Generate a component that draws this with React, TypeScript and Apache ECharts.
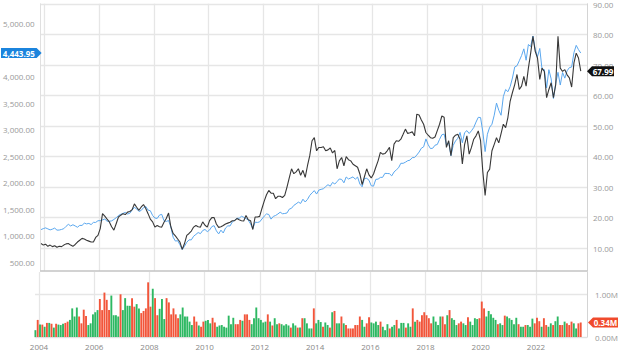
import React, { useEffect, useRef } from "react";
import * as echarts from "echarts";

// Monthly points, Dec 2003 .. Sep 2023
const FIRST_T = 2003.87;
const X_MIN = 2003.855;
const X_MAX = 2023.848;

const sp500: number[] = [
  1112,
  1131, 1145, 1126, 1107, 1121, 1141, 1102, 1104, 1115, 1130, 1174, 1212,
  1181, 1204, 1181, 1157, 1192, 1191, 1234, 1220, 1229, 1207, 1249, 1248,
  1280, 1281, 1295, 1311, 1270, 1270, 1277, 1304, 1336, 1378, 1401, 1418,
  1438, 1407, 1421, 1482, 1531, 1503, 1455, 1474, 1527, 1549, 1481, 1468,
  1379, 1331, 1323, 1386, 1400, 1280, 1267, 1283, 1165, 969, 896, 903,
  826, 735, 798, 873, 919, 919, 987, 1021, 1057, 1036, 1096, 1115,
  1074, 1104, 1169, 1187, 1089, 1031, 1102, 1049, 1141, 1183, 1181, 1258,
  1286, 1327, 1326, 1364, 1345, 1321, 1292, 1219, 1131, 1253, 1247, 1258,
  1312, 1366, 1408, 1398, 1310, 1362, 1379, 1407, 1441, 1412, 1416, 1426,
  1498, 1515, 1569, 1598, 1631, 1606, 1686, 1633, 1682, 1757, 1806, 1848,
  1783, 1859, 1872, 1884, 1924, 1960, 1931, 2003, 1972, 2018, 2068, 2059,
  1995, 2105, 2068, 2086, 2107, 2063, 2104, 1972, 1920, 2079, 2080, 2044,
  1940, 1932, 2060, 2065, 2097, 2099, 2174, 2171, 2168, 2126, 2199, 2239,
  2279, 2364, 2363, 2384, 2412, 2423, 2470, 2472, 2519, 2575, 2648, 2674,
  2824, 2714, 2641, 2648, 2705, 2718, 2816, 2902, 2914, 2712, 2760, 2507,
  2704, 2784, 2834, 2946, 2752, 2942, 2980, 2926, 2977, 3038, 3141, 3231,
  3226, 2954, 2585, 2912, 3044, 3100, 3271, 3500, 3363, 3270, 3622, 3756,
  3714, 3811, 3973, 4181, 4204, 4298, 4395, 4523, 4308, 4605, 4567, 4766,
  4516, 4374, 4530, 4132, 4132, 3785, 4130, 3955, 3586, 3872, 4080, 3840,
  4077, 3970, 4109, 4169, 4180, 4450, 4589, 4508, 4443.95,
];

const stock: number[] = [
  11.5,
  11.0, 11.3, 10.6, 11.0, 10.5, 10.8, 10.3, 10.6, 10.5, 11.0, 11.4, 11.5,
  11.0, 10.6, 11.2, 12.0, 12.6, 13.2, 13.0, 12.6, 12.3, 12.0, 12.0, 13.5,
  14.2, 16.4, 21.3, 20.5, 19.5, 18.6, 17.0, 15.9, 18.0, 20.2, 20.8, 21.3,
  21.0, 21.8, 22.0, 22.6, 24.5, 23.4, 22.4, 23.5, 24.3, 23.0, 21.3, 19.5,
  18.6, 16.9, 17.4, 17.0, 16.9, 18.5, 19.7, 21.5, 17.0, 14.8, 14.0, 13.0,
  12.0, 9.6, 11.5, 14.2, 14.8, 15.6, 16.9, 17.4, 17.0, 16.9, 18.6, 17.5,
  16.9, 19.0, 20.0, 20.0, 17.9, 16.8, 17.0, 17.4, 17.9, 18.2, 18.5, 19.0,
  19.0, 19.7, 19.3, 19.0, 18.9, 20.7, 19.3, 19.0, 16.1, 20.2, 20.2, 20.4,
  23.0, 25.4, 27.5, 28.9, 28.0, 28.0, 26.2, 27.0, 27.0, 26.6, 27.3, 30.0,
  33.0, 36.0, 34.4, 35.0, 36.0, 33.9, 35.5, 33.2, 37.0, 40.3, 45.2, 46.2,
  41.9, 43.0, 43.0, 43.2, 41.9, 42.2, 42.8, 41.2, 42.0, 36.0, 38.6, 39.7,
  37.0, 40.0, 39.0, 38.6, 37.5, 37.0, 36.5, 34.3, 30.8, 33.4, 36.0, 34.0,
  33.0, 34.3, 36.5, 38.6, 41.4, 40.8, 41.0, 41.9, 43.0, 38.7, 44.1, 45.2,
  45.0, 45.7, 47.3, 49.0, 47.6, 47.8, 48.1, 46.8, 53.9, 53.6, 52.0, 50.6,
  47.9, 47.0, 46.2, 46.0, 46.4, 48.5, 50.6, 53.3, 52.9, 43.0, 45.2, 40.3,
  46.2, 47.0, 47.3, 45.7, 37.6, 44.0, 46.8, 40.8, 43.0, 45.7, 46.8, 48.4,
  45.2, 35.0, 27.3, 34.8, 35.9, 41.9, 44.0, 46.2, 44.5, 47.5, 50.6, 49.5,
  52.8, 58.2, 61.0, 63.6, 66.9, 62.0, 63.1, 66.3, 63.1, 69.0, 73.9, 79.4,
  74.5, 72.3, 65.3, 69.0, 67.9, 59.3, 62.0, 64.2, 59.3, 63.6, 79.4, 69.0,
  67.9, 68.5, 66.8, 65.8, 62.8, 70.7, 73.9, 72.3, 67.99,
];

// Volume in millions
const volume: number[] = [
  0.16, 0.40, 0.29, 0.29, 0.24, 0.33, 0.33, 0.31, 0.22, 0.31, 0.29, 0.28, 0.31,
  0.33, 0.36, 0.40, 0.67, 0.48, 0.69, 0.48, 0.32, 0.64, 0.49, 0.28, 0.32,
  0.53, 0.58, 0.63, 0.89, 0.63, 1.04, 0.87, 0.63, 0.97, 0.51, 0.51, 0.48,
  1.0, 0.63, 0.91, 0.73, 0.73, 0.91, 0.71, 0.77, 0.67, 0.56, 0.61, 0.67,
  1.28, 0.71, 1.13, 0.91, 0.51, 0.66, 0.89, 0.42, 0.91, 0.81, 0.53, 0.67,
  0.53, 0.44, 0.53, 0.69,
  0.48, 0.48, 0.36, 0.28, 0.48, 0.36, 0.27, 0.24, 0.36, 0.38, 0.40, 0.32,
  0.45, 0.34, 0.24, 0.27, 0.28, 0.24, 0.22, 0.50, 0.30, 0.45, 0.30, 0.30,
  0.40, 0.38, 0.53, 0.53, 0.40, 0.30, 0.44, 0.69, 0.44, 0.40, 0.34, 0.36,
  0.53, 0.36, 0.27, 0.44, 0.30, 0.32, 0.30, 0.27, 0.30, 0.27, 0.22, 0.32,
  0.27, 0.22, 0.22, 0.44,
  0.44, 0.32, 0.20, 0.20, 0.67, 0.32, 0.40, 0.35, 0.24, 0.34, 0.28, 0.22,
  0.58, 0.61, 0.32, 0.32, 0.48, 0.32, 0.28, 0.20, 0.20, 0.20, 0.28, 0.28,
  0.48, 0.40, 0.24, 0.32, 0.46, 0.34, 0.32, 0.36, 0.28, 0.36, 0.24, 0.16,
  0.30, 0.20, 0.24, 0.28, 0.40, 0.20, 0.33, 0.33, 0.22, 0.32, 0.24, 0.67,
  0.36, 0.40, 0.36, 0.51, 0.58, 0.51, 0.44, 0.32, 0.48, 0.36, 0.28, 0.48,
  0.48, 0.30, 0.51, 0.63, 0.44, 0.40, 0.28, 0.32, 0.36, 0.32, 0.28, 0.46,
  0.36, 0.28, 0.44, 0.42, 0.44, 0.83, 0.67, 0.48, 0.61, 0.53, 0.45, 0.40,
  0.30, 0.32, 0.28, 0.50, 0.48, 0.44, 0.40, 0.30, 0.45, 0.30, 0.24, 0.24,
  0.28, 0.28, 0.24, 0.43, 0.32, 0.45, 0.37, 0.24, 0.44, 0.28, 0.24, 0.32,
  0.28, 0.37, 0.48, 0.28, 0.28, 0.36, 0.32, 0.28, 0.36, 0.32, 0.20, 0.32,
  0.34,
];

const yearTicks = [2004, 2006, 2008, 2010, 2012, 2014, 2016, 2018, 2020, 2022];
const leftTicks = [500, 1000, 1500, 2000, 2500, 3000, 3500, 4000, 5000];
const rightTicks = [10, 20, 30, 40, 50, 60, 70, 80, 90];
const volTicks = [0, 1];

const FONT = "'Open Sans', 'Noto Sans', sans-serif";
const GREEN = "#2db862";
const RED = "#f2553a";

export default function App() {
  const ref = useRef<HTMLDivElement>(null);

  useEffect(() => {
    if (!ref.current) return;
    const chart = echarts.init(ref.current, undefined, { renderer: "svg" });
    const t = (i: number) => FIRST_T + i / 12;
    const n = Math.min(sp500.length, stock.length, volume.length);

    const spData = sp500.slice(0, n).map((v, i) => [t(i), v]);
    const stData = stock.slice(0, n).map((v, i) => [t(i), v]);
    const volData = volume.slice(0, n).map((v, i) => ({
      value: [t(i), v],
      itemStyle: { color: i === 0 || stock[i] >= stock[i - 1] ? GREEN : RED },
    }));

    const gridLine = { show: true, lineStyle: { color: "#e6e6e6", width: 1.3 } };
    const labelBase = { color: "#999", fontSize: 8, fontFamily: FONT };

    chart.setOption({
      animation: false,
      backgroundColor: "#ffffff",
      textStyle: { fontFamily: FONT },
      grid: [
        { left: 35, right: 53, top: 2, height: 269 },
        { left: 35, right: 53, top: 272, height: 65 },
      ],
      xAxis: [
        {
          type: "value",
          gridIndex: 0,
          min: X_MIN,
          max: X_MAX,
          axisLabel: { show: false, customValues: yearTicks },
          axisTick: { show: false, customValues: yearTicks },
          splitLine: gridLine,
          axisLine: { show: true, lineStyle: { color: "#c4c4c4", width: 1.5 } },
        },
        {
          type: "value",
          gridIndex: 1,
          min: X_MIN,
          max: X_MAX,
          axisLabel: {
            ...labelBase,
            color: "#888",
            customValues: yearTicks,
            margin: 5,
            formatter: (v: number) => String(Math.round(v)),
          },
          axisTick: { show: false, customValues: yearTicks },
          splitLine: gridLine,
          axisLine: { show: true, lineStyle: { color: "#e0e0e0" } },
        },
      ],
      yAxis: [
        {
          type: "value",
          gridIndex: 0,
          position: "left",
          min: 331.25,
          max: 5375,
          axisLabel: {
            ...labelBase,
            margin: 6,
            customValues: leftTicks,
            formatter: (v: number) =>
              v.toLocaleString("en-US", { minimumFractionDigits: 2, maximumFractionDigits: 2 }),
          },
          axisTick: { show: false, customValues: leftTicks },
          splitLine: { show: false },
          axisLine: { show: true, lineStyle: { color: "#e0e0e0" } },
        },
        {
          type: "value",
          gridIndex: 0,
          position: "right",
          min: 2.51,
          max: 90.1,
          axisLabel: {
            ...labelBase,
            margin: 6,
            customValues: rightTicks,
            formatter: (v: number) => v.toFixed(2),
          },
          axisTick: { show: false, customValues: rightTicks },
          splitLine: gridLine,
          axisLine: { show: true, lineStyle: { color: "#d4d4d4" } },
        },
        {
          type: "value",
          gridIndex: 1,
          position: "right",
          min: 0,
          max: 1.522,
          axisLabel: {
            ...labelBase,
            margin: 8,
            customValues: volTicks,
            formatter: (v: number) => v.toFixed(2) + "M",
          },
          axisTick: { show: false, customValues: volTicks },
          splitLine: gridLine,
          axisLine: { show: true, lineStyle: { color: "#d4d4d4" } },
        },
      ],
      series: [
        {
          name: "S&P 500",
          type: "line",
          xAxisIndex: 0,
          yAxisIndex: 0,
          data: spData,
          showSymbol: false,
          lineStyle: { color: "#5aa7ee", width: 1 },
          z: 3,
        },
        {
          name: "Stock",
          type: "line",
          xAxisIndex: 0,
          yAxisIndex: 1,
          data: stData,
          showSymbol: false,
          lineStyle: { color: "#383838", width: 1.1 },
          z: 4,
        },
        {
          name: "Volume",
          type: "bar",
          xAxisIndex: 1,
          yAxisIndex: 2,
          data: volData,
          barWidth: 1.9,
        },
      ],
    });

    // Last-value badges, positioned through the chart's own scales
    const last = n - 1;
    const xl = chart.convertToPixel({ xAxisIndex: 0 }, X_MIN) as number;
    const xr = chart.convertToPixel({ xAxisIndex: 0 }, X_MAX) as number;
    const yS = chart.convertToPixel({ yAxisIndex: 0 }, sp500[last]) as number;
    const yK = chart.convertToPixel({ yAxisIndex: 1 }, stock[last]) as number;
    const yV = chart.convertToPixel({ yAxisIndex: 2 }, volume[last]) as number;

    const h = 5;
    const leftBadge = (tip: number, y: number, x0: number, color: string, text: string) => [
      {
        type: "polygon",
        shape: { points: [[x0, y - h], [tip - 5, y - h], [tip, y], [tip - 5, y + h], [x0, y + h]] },
        style: { fill: color },
        z: 100,
      },
      {
        type: "text",
        x: (x0 + tip - 5) / 2,
        y,
        style: {
          text,
          fill: "#fff",
          font: `bold 8px ${FONT}`,
          align: "center",
          verticalAlign: "middle",
        },
        z: 101,
      },
    ];
    const rightBadge = (tip: number, y: number, x1: number, color: string, text: string) => [
      {
        type: "polygon",
        shape: { points: [[tip, y], [tip + 5, y - h], [x1, y - h], [x1, y + h], [tip + 5, y + h]] },
        style: { fill: color },
        z: 100,
      },
      {
        type: "text",
        x: (tip + 5 + x1) / 2,
        y,
        style: {
          text,
          fill: "#fff",
          font: `bold 8px ${FONT}`,
          align: "center",
          verticalAlign: "middle",
        },
        z: 101,
      },
    ];

    chart.setOption({
      graphic: [
        ...leftBadge(xl + 1, yS, 1, "#1b84dd", sp500[last].toLocaleString("en-US", { minimumFractionDigits: 2 })),
        ...rightBadge(xr, yK, xr + 27, "#111111", stock[last].toFixed(2)),
        ...rightBadge(xr + 1, yV, xr + 31, "#f04a2c", volume[last].toFixed(2) + "M"),
      ],
    });

    return () => chart.dispose();
  }, []);

  return (
    <div
      ref={ref}
      style={{ position: "fixed", left: 0, top: 0, width: 640, height: 353, background: "#fff" }}
    />
  );
}
